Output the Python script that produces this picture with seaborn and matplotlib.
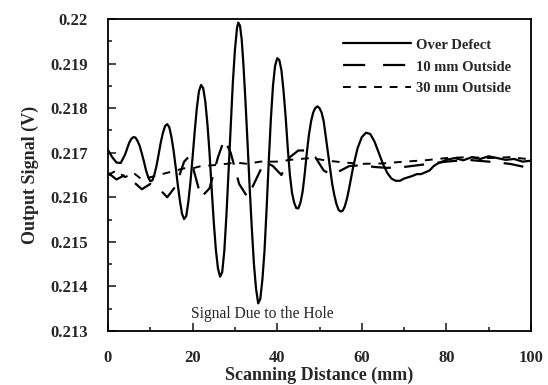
import numpy as np
import pandas as pd
import matplotlib
matplotlib.use("Agg")
import matplotlib.pyplot as plt
import seaborn as sns
from matplotlib.ticker import MultipleLocator, FormatStrFormatter

# Over Defect (solid)
x_over = [0, 1, 2, 3, 4, 5, 5.5, 6, 6.5, 7, 7.5, 8, 8.5, 9, 9.5, 10, 10.5, 11, 11.5, 12, 12.5,
          13, 13.5, 14, 14.5, 15, 15.5, 16, 16.5, 17, 17.5, 18, 18.5, 19, 19.5, 20, 20.5,
          21, 21.5, 22, 22.5, 23, 23.5, 24, 24.5, 25, 25.5, 26, 26.5, 27, 27.5, 28, 28.5,
          29, 29.5, 30, 30.5, 30.8, 31.2, 31.6, 32, 32.5, 33, 33.5, 34, 34.5, 35, 35.5,
          36, 36.5, 37, 37.5, 38, 38.5, 39, 39.5, 40, 40.5, 41, 41.5, 42, 42.5, 43, 43.5,
          44, 44.5, 45, 45.5, 46, 46.5, 47, 47.5, 48, 48.5, 49, 49.5, 50, 50.5, 51, 52,
          53, 53.5, 54, 54.5, 55, 55.5, 56, 56.5, 57, 58, 59, 60, 61, 62, 63, 64, 65,
          66, 67, 68, 69, 70, 71, 72, 73, 74, 75, 76, 77, 78, 79, 80, 82, 84, 86, 88,
          90, 92, 94, 96, 98, 100]
y_over = [0.21706, 0.21690, 0.21678, 0.21677, 0.21695, 0.21722, 0.21731, 0.21735, 0.21734, 0.21726,
          0.21715, 0.21698, 0.21680, 0.21660, 0.21645, 0.21636, 0.21638, 0.21652, 0.21672, 0.21698,
          0.21724, 0.21745, 0.21760, 0.21764, 0.21757, 0.21735, 0.21705, 0.21668, 0.21628, 0.21592,
          0.21563, 0.21551, 0.21558, 0.21590, 0.21635, 0.21690, 0.21748, 0.21800, 0.21838, 0.21852,
          0.21845, 0.21815, 0.21765, 0.21700, 0.21620, 0.21545, 0.21482, 0.21440, 0.21422, 0.21432,
          0.21480, 0.21560, 0.21660, 0.21760, 0.21855, 0.21930, 0.21980, 0.21992, 0.21985, 0.21955,
          0.21900, 0.21815, 0.21720, 0.21620, 0.21530, 0.21450, 0.21395, 0.21362, 0.21372, 0.21415,
          0.21480, 0.21575, 0.21680, 0.21775, 0.21850, 0.21895, 0.21912, 0.21908, 0.21885, 0.21838,
          0.21780, 0.21710, 0.21650, 0.21610, 0.21588, 0.21576, 0.21575, 0.21588, 0.21612, 0.21652,
          0.21700, 0.21740, 0.21770, 0.21790, 0.21800, 0.21804, 0.21800, 0.21790, 0.21770, 0.21700,
          0.21630, 0.21605, 0.21585, 0.21572, 0.21568, 0.21570, 0.21580, 0.21597, 0.21620, 0.21670,
          0.21710, 0.21735, 0.21745, 0.21742, 0.21725, 0.21700, 0.21675, 0.21655, 0.21642, 0.21637,
          0.21637, 0.21642, 0.21645, 0.21648, 0.21652, 0.21652, 0.21656, 0.21660, 0.21670, 0.21676,
          0.21680, 0.21684, 0.21688, 0.21683, 0.21690, 0.21686, 0.21692, 0.21688, 0.21684, 0.21686,
          0.21680, 0.21682]

# 10 mm Outside (long dashes)
x_10mm = [0, 2, 4, 6, 8, 10, 12, 14, 16, 18, 19, 20, 22, 24, 26, 27.5, 29, 31, 33, 35,
          37, 39, 41, 43, 45, 47, 49, 51, 53, 55, 57, 60, 63, 66, 70, 75, 80, 85, 90, 95, 100]
y_10mm = [0.21655, 0.21640, 0.21650, 0.21635, 0.21618, 0.21630, 0.21620, 0.21600, 0.21625, 0.21680,
          0.21690, 0.21670, 0.21600, 0.21620, 0.21690, 0.21730, 0.21700, 0.21630, 0.21600, 0.21640,
          0.21680, 0.21670, 0.21650, 0.21690, 0.21705, 0.21705, 0.21690, 0.21660, 0.21650, 0.21660,
          0.21670, 0.21672, 0.21668, 0.21666, 0.21668, 0.21674, 0.21680, 0.21684, 0.21680, 0.21675,
          0.21665]

# 30 mm Outside (short dashes)
x_30mm = [0, 2, 4, 6, 8, 10, 12, 14, 16, 18, 20, 22, 25, 28, 30, 33, 36, 40, 44, 48,
          52, 56, 60, 65, 70, 75, 80, 85, 90, 95, 100]
y_30mm = [0.21650, 0.21660, 0.21645, 0.21655, 0.21640, 0.21645, 0.21650, 0.21655, 0.21660, 0.21665,
          0.21665, 0.21670, 0.21672, 0.21675, 0.21678, 0.21675, 0.21680, 0.21680, 0.21685, 0.21688,
          0.21682, 0.21678, 0.21675, 0.21676, 0.21680, 0.21683, 0.21688, 0.21690, 0.21688, 0.21690,
          0.21685]

sns.set_style("ticks")
plt.rcParams['font.family'] = ['Liberation Serif', 'DejaVu Serif']

fig = plt.figure(figsize=(5.48, 3.85), dpi=100)
ax = fig.add_axes([108 / 548, 1 - 331 / 385, (531 - 108) / 548, (331 - 19) / 385])

sns.lineplot(x=x_over, y=y_over, ax=ax, color="black", linewidth=1.6, label="Over Defect")
sns.lineplot(x=x_10mm, y=y_10mm, ax=ax, color="black", linewidth=1.6, label="10 mm Outside")
sns.lineplot(x=x_30mm, y=y_30mm, ax=ax, color="black", linewidth=1.4, label="30 mm Outside")
ax.lines[1].set_dashes([9, 6])
ax.lines[2].set_dashes([4, 4])

ax.set_xlim(0, 100)
ax.set_ylim(0.213, 0.22)
ax.xaxis.set_major_locator(MultipleLocator(20))
ax.xaxis.set_minor_locator(MultipleLocator(10))
ax.yaxis.set_major_locator(MultipleLocator(0.001))
ax.yaxis.set_minor_locator(MultipleLocator(0.0005))
ax.yaxis.set_major_formatter(FormatStrFormatter('%g'))
ax.tick_params(which="major", direction="in", length=6, width=1.2, labelsize=12)
ax.tick_params(axis="x", which="major", pad=14)
ax.tick_params(axis="y", which="major", pad=14.5)
ax.tick_params(which="minor", direction="in", length=3, width=1.2)
for lab in ax.get_xticklabels() + ax.get_yticklabels():
    lab.set_fontweight("bold")
for s in ax.spines.values():
    s.set_linewidth(1.3)
    s.set_color("black")

ax.set_xlabel("Scanning Distance (mm)", fontsize=13, fontweight="bold", labelpad=0)
ax.set_ylabel("Output Signal (V)", fontsize=13, fontweight="bold", labelpad=8)

ax.text(36.4, 0.21338, "Signal Due to the Hole", fontsize=11.2, ha="center", va="center")

leg = ax.legend(loc="upper right", frameon=False, fontsize=10.5, handlelength=4.6,
                handletextpad=0.4, labelspacing=0.6, bbox_to_anchor=(0.985, 0.98))
leg.get_lines()[1].set_dashes([10, 8])
for t in leg.get_texts():
    t.set_fontweight("bold")

fig.savefig("out.png", dpi=100)
